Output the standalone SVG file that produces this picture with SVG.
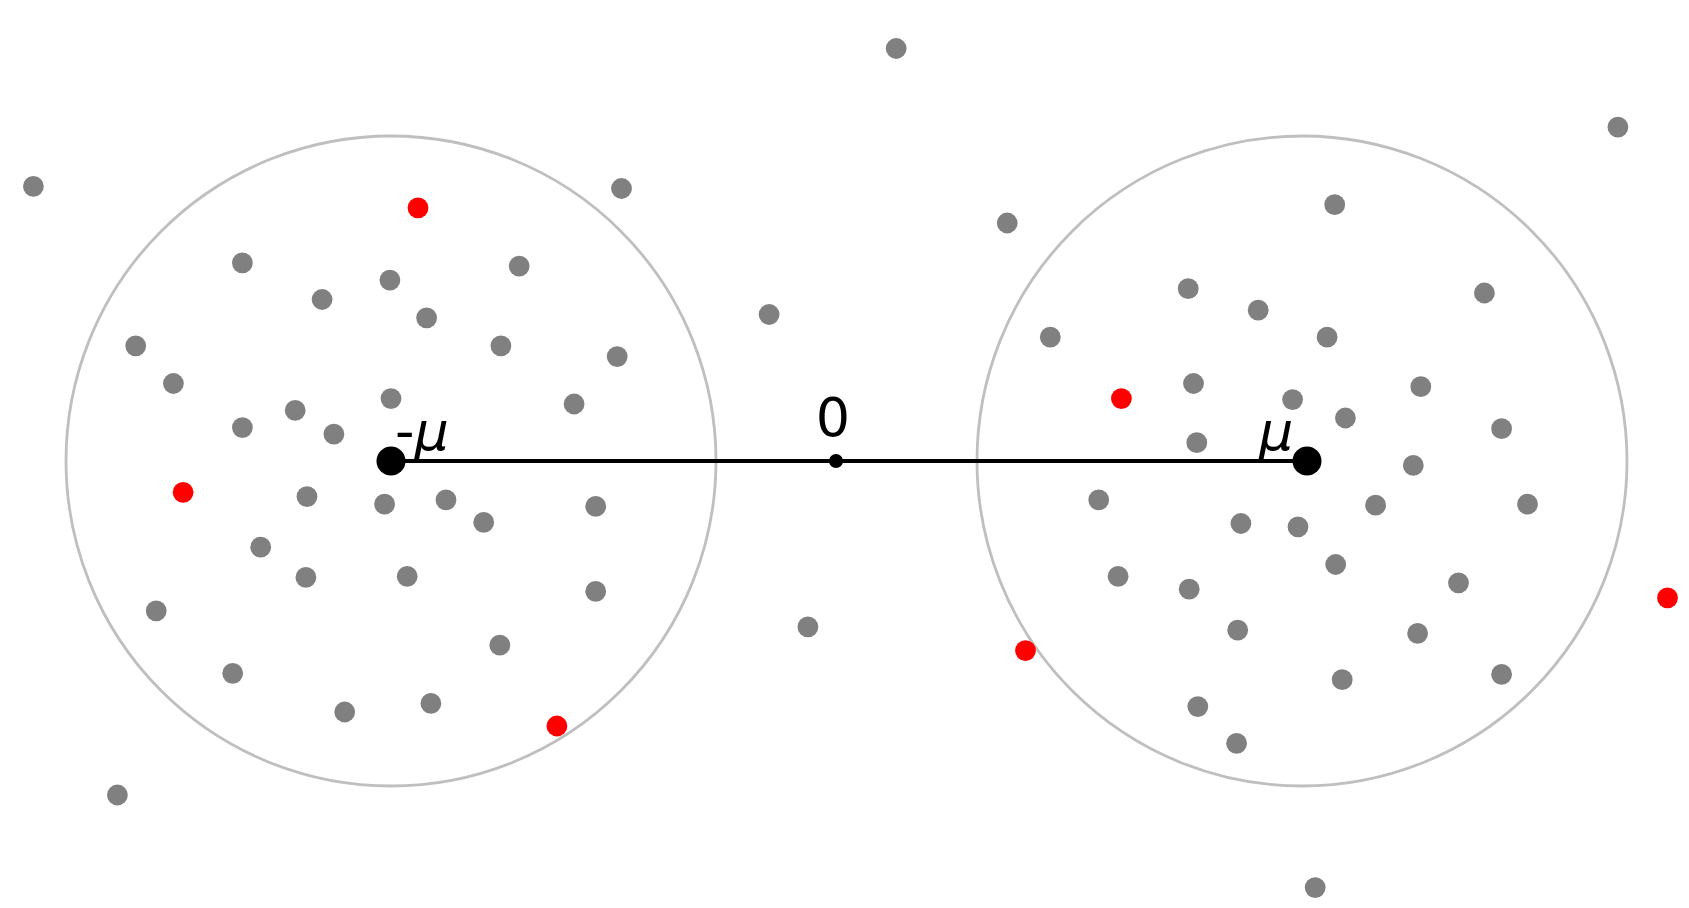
<svg xmlns="http://www.w3.org/2000/svg" width="1689" height="908" viewBox="0 0 1689 908">
<style>
.ring{fill:none;stroke:#bfbfbf;stroke-width:2.8}
.g{fill:#808080}
.r{fill:#ff0000}
.lbl{font-family:"DejaVu Sans","Liberation Sans",sans-serif;font-size:54px;fill:#000}
.mu{font-style:italic}
</style>
<rect width="1689" height="908" fill="#fff"/>
<g id="rings">
<circle class="ring" cx="391" cy="461" r="325"/>
<circle class="ring" cx="1302" cy="461" r="325"/>
</g>
<g id="connectors">
<line x1="391" y1="461" x2="1307" y2="461" stroke="#000" stroke-width="3.8"/>
</g>
<g id="samples">
<circle class="g" cx="33.4" cy="186.4" r="10.4"/>
<circle class="g" cx="896.2" cy="48.5" r="10.4"/>
<circle class="g" cx="1617.9" cy="127.1" r="10.4"/>
<circle class="g" cx="621.5" cy="188.5" r="10.4"/>
<circle class="g" cx="1007.2" cy="223" r="10.4"/>
<circle class="g" cx="1334.7" cy="204.7" r="10.4"/>
<circle class="g" cx="242.4" cy="262.8" r="10.4"/>
<circle class="g" cx="519.2" cy="266.1" r="10.4"/>
<circle class="g" cx="389.9" cy="280.1" r="10.4"/>
<circle class="g" cx="322.1" cy="299.5" r="10.4"/>
<circle class="g" cx="426.6" cy="317.8" r="10.4"/>
<circle class="g" cx="1188.2" cy="288.7" r="10.4"/>
<circle class="g" cx="1258.2" cy="310.2" r="10.4"/>
<circle class="g" cx="1484.4" cy="293" r="10.4"/>
<circle class="g" cx="135.7" cy="345.8" r="10.4"/>
<circle class="g" cx="500.9" cy="345.8" r="10.4"/>
<circle class="g" cx="617.2" cy="356.6" r="10.4"/>
<circle class="g" cx="769.1" cy="314.5" r="10.4"/>
<circle class="g" cx="1050.3" cy="337.2" r="10.4"/>
<circle class="g" cx="1327.1" cy="337.2" r="10.4"/>
<circle class="g" cx="173.4" cy="383.5" r="10.4"/>
<circle class="g" cx="1193.5" cy="383.5" r="10.4"/>
<circle class="g" cx="1420.8" cy="386.7" r="10.4"/>
<circle class="g" cx="391" cy="398.6" r="10.4"/>
<circle class="g" cx="295.2" cy="410.4" r="10.4"/>
<circle class="g" cx="574.1" cy="404" r="10.4"/>
<circle class="g" cx="1292.6" cy="399.6" r="10.4"/>
<circle class="g" cx="1345.4" cy="418" r="10.4"/>
<circle class="g" cx="242.4" cy="427.6" r="10.4"/>
<circle class="g" cx="333.9" cy="434.1" r="10.4"/>
<circle class="g" cx="1501.6" cy="428.7" r="10.4"/>
<circle class="g" cx="1196.8" cy="442.7" r="10.4"/>
<circle class="g" cx="1413.3" cy="465.4" r="10.4"/>
<circle class="g" cx="307" cy="496.6" r="10.4"/>
<circle class="g" cx="384.6" cy="504.1" r="10.4"/>
<circle class="g" cx="446" cy="499.8" r="10.4"/>
<circle class="g" cx="483.7" cy="522.4" r="10.4"/>
<circle class="g" cx="595.7" cy="506.3" r="10.4"/>
<circle class="g" cx="1098.7" cy="499.8" r="10.4"/>
<circle class="g" cx="1375.6" cy="505.2" r="10.4"/>
<circle class="g" cx="1527.5" cy="504.1" r="10.4"/>
<circle class="g" cx="1240.9" cy="523.5" r="10.4"/>
<circle class="g" cx="1298" cy="526.8" r="10.4"/>
<circle class="g" cx="260.7" cy="547.2" r="10.4"/>
<circle class="g" cx="305.9" cy="577.4" r="10.4"/>
<circle class="g" cx="407.2" cy="576.3" r="10.4"/>
<circle class="g" cx="1335.7" cy="564.5" r="10.4"/>
<circle class="g" cx="1118.1" cy="576.3" r="10.4"/>
<circle class="g" cx="1189.2" cy="589.2" r="10.4"/>
<circle class="g" cx="1458.5" cy="582.8" r="10.4"/>
<circle class="g" cx="595.7" cy="591.4" r="10.4"/>
<circle class="g" cx="156.2" cy="610.8" r="10.4"/>
<circle class="g" cx="807.9" cy="626.9" r="10.4"/>
<circle class="g" cx="1237.7" cy="630.2" r="10.4"/>
<circle class="g" cx="1417.6" cy="633.4" r="10.4"/>
<circle class="g" cx="499.8" cy="645.2" r="10.4"/>
<circle class="g" cx="232.7" cy="673.3" r="10.4"/>
<circle class="g" cx="1342.2" cy="679.7" r="10.4"/>
<circle class="g" cx="1501.6" cy="674.3" r="10.4"/>
<circle class="g" cx="430.9" cy="703.4" r="10.4"/>
<circle class="g" cx="344.7" cy="712" r="10.4"/>
<circle class="g" cx="1197.8" cy="706.6" r="10.4"/>
<circle class="g" cx="1236.6" cy="743.3" r="10.4"/>
<circle class="g" cx="117.4" cy="795" r="10.4"/>
<circle class="g" cx="1315.2" cy="887.6" r="10.4"/>
<circle class="r" cx="418" cy="207.9" r="10.4"/>
<circle class="r" cx="183.1" cy="492.3" r="10.4"/>
<circle class="r" cx="556.9" cy="726" r="10.4"/>
<circle class="r" cx="1121.4" cy="398.6" r="10.4"/>
<circle class="r" cx="1025.5" cy="650.6" r="10.4"/>
<circle class="r" cx="1667.5" cy="597.8" r="10.4"/>
</g>
<g id="node-neg-mu">
<circle cx="391" cy="461" r="14.5" fill="#000"/>
<text class="lbl" x="395" y="450">-<tspan class="mu">μ</tspan></text>
</g>
<g id="node-zero">
<circle cx="836" cy="461" r="7" fill="#000"/>
<text class="lbl" x="833" y="436" text-anchor="middle">0</text>
</g>
<g id="node-mu">
<circle cx="1307" cy="461" r="14.5" fill="#000"/>
<text class="lbl mu" x="1259" y="450">μ</text>
</g>
</svg>
